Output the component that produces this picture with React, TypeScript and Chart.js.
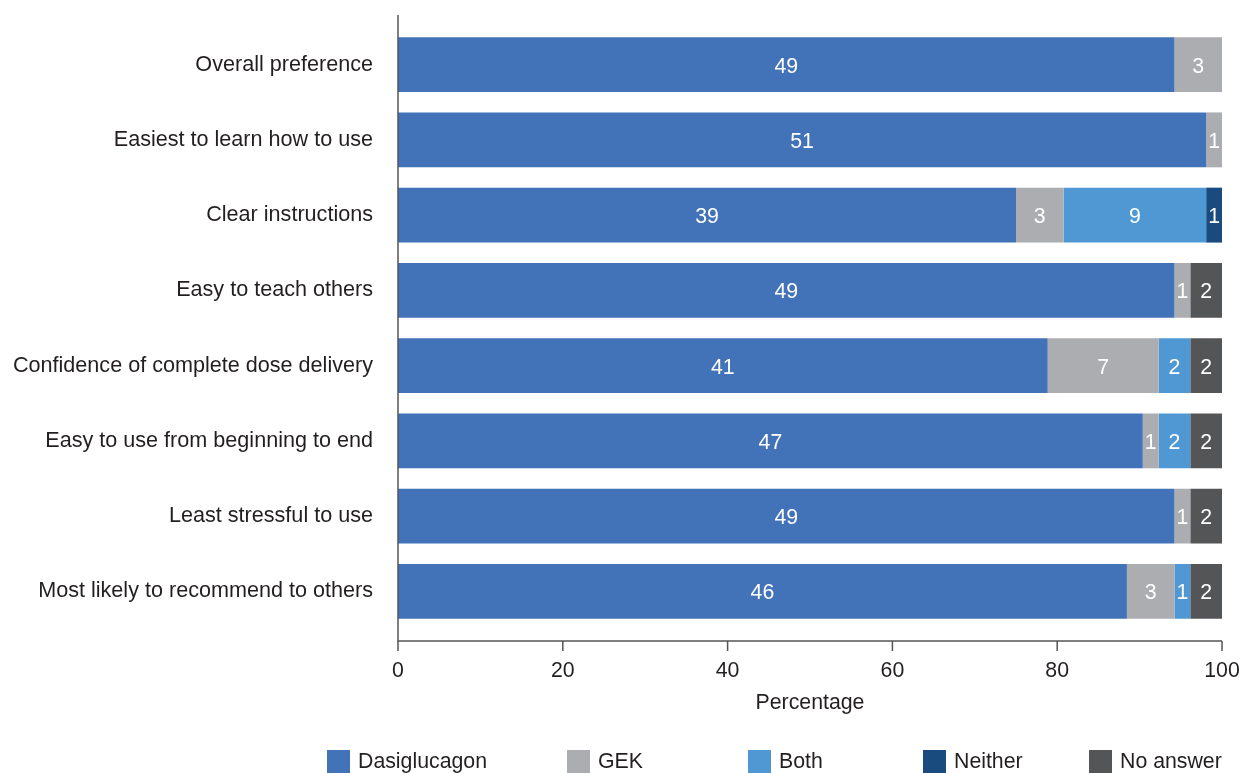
import React, { useEffect, useRef } from "react";
import { Chart, registerables } from "chart.js";

Chart.register(...registerables);

const categories = [
  "Overall preference",
  "Easiest to learn how to use",
  "Clear instructions",
  "Easy to teach others",
  "Confidence of complete dose delivery",
  "Easy to use from beginning to end",
  "Least stressful to use",
  "Most likely to recommend to others",
];

const seriesNames = ["Dasiglucagon", "GEK", "Both", "Neither", "No answer"];

const dasiglucagon = [49, 51, 39, 49, 41, 47, 49, 46];
const gek = [3, 1, 3, 1, 7, 1, 1, 3];
const both = [0, 0, 9, 0, 2, 2, 0, 1];
const neither = [0, 0, 1, 0, 0, 0, 0, 0];
const noAnswer = [0, 0, 0, 2, 2, 2, 2, 2];

const xTicks = [0, 20, 40, 60, 80, 100];
const xTitle = "Percentage";

const seriesColors = ["#4272b8", "#acadb0", "#4f98d4", "#1a4b7f", "#545557"];

const FONT = '"Liberation Sans", Arial, Helvetica, sans-serif';
const TEXT = "#231f20";
const AXIS = "#555555";

// legend box left edges (layout)
const legendLeft = [327, 567, 748, 923, 1089];

const counts = [dasiglucagon, gek, both, neither, noAnswer];
const totals = categories.map((_, i) => counts.reduce((s, arr) => s + arr[i], 0));

const overlay = {
  id: "overlay",
  afterDatasetsDraw(chart: any) {
    const ctx = chart.ctx as CanvasRenderingContext2D;
    const { left, right, top, bottom } = chart.chartArea;
    const xs = chart.scales.x;
    ctx.save();

    // value labels
    ctx.font = `21.3px ${FONT}`;
    ctx.fillStyle = "#ffffff";
    ctx.textAlign = "center";
    ctx.textBaseline = "middle";
    chart.data.datasets.forEach((_: any, di: number) => {
      const meta = chart.getDatasetMeta(di);
      meta.data.forEach((el: any, i: number) => {
        const c = counts[di][i];
        if (!c) return;
        const p = el.getProps(["x", "base", "y"], true);
        ctx.fillText(String(c), (p.x + p.base) / 2, p.y + 2);
      });
    });

    // axes
    const axisY = bottom + 12;
    ctx.strokeStyle = AXIS;
    ctx.lineWidth = 1.5;
    ctx.beginPath();
    ctx.moveTo(left, top - 12);
    ctx.lineTo(left, axisY);
    ctx.lineTo(right, axisY);
    ctx.stroke();
    ctx.beginPath();
    xTicks.forEach((v) => {
      const px = xs.getPixelForValue(v);
      ctx.moveTo(px, axisY);
      ctx.lineTo(px, axisY + 10);
    });
    ctx.stroke();

    // x title
    ctx.fillStyle = TEXT;
    ctx.font = `21.3px ${FONT}`;
    ctx.textAlign = "center";
    ctx.textBaseline = "middle";
    ctx.fillText(xTitle, (left + right) / 2, 703);

    // legend
    ctx.textAlign = "left";
    seriesNames.forEach((name, i) => {
      const lx = legendLeft[i];
      ctx.fillStyle = seriesColors[i];
      ctx.fillRect(lx, 750, 23, 23);
      ctx.fillStyle = TEXT;
      ctx.fillText(name, lx + 31, 762);
    });

    ctx.restore();
  },
};

export default function App() {
  const ref = useRef<HTMLCanvasElement | null>(null);

  useEffect(() => {
    if (!ref.current) return;
    const chart = new Chart(ref.current, {
      type: "bar",
      data: {
        labels: categories,
        datasets: seriesNames.map((name, di) => ({
          label: name,
          data: counts[di].map((c, i) => (c / totals[i]) * 100),
          backgroundColor: seriesColors[di],
          borderWidth: 0,
          barPercentage: 0.73,
          categoryPercentage: 1,
        })),
      },
      options: {
        indexAxis: "y",
        responsive: false,
        animation: false,
        layout: { padding: { left: 0, right: 20, top: 27, bottom: 44 } },
        plugins: {
          legend: { display: false },
          tooltip: { enabled: false },
        },
        scales: {
          x: {
            stacked: true,
            min: 0,
            max: 100,
            grid: { display: false, drawTicks: false },
            border: { display: false },
            afterBuildTicks: (scale: any) => {
              scale.ticks = xTicks.map((v) => ({ value: v }));
            },
            afterFit: (scale: any) => {
              scale.height = 100;
              scale.paddingLeft = 0;
              scale.paddingRight = 0;
            },
            ticks: {
              padding: 29,
              color: TEXT,
              font: { family: FONT, size: 21.3 },
              maxRotation: 0,
            },
          },
          y: {
            stacked: true,
            offset: true,
            grid: { display: false, drawTicks: false },
            border: { display: false },
            afterFit: (scale: any) => {
              scale.width = 398;
              scale.paddingTop = 0;
              scale.paddingBottom = 0;
            },
            ticks: {
              padding: 25,
              color: TEXT,
              font: { family: FONT, size: 21.6 },
              autoSkip: false,
            },
          },
        },
      },
      plugins: [overlay],
    } as any);
    return () => chart.destroy();
  }, []);

  return (
    <div style={{ position: "absolute", left: 0, top: 0, width: 1242, height: 773, background: "#fff" }}>
      <canvas ref={ref} width={1242} height={773} style={{ display: "block", width: 1242, height: 773 }} />
    </div>
  );
}
